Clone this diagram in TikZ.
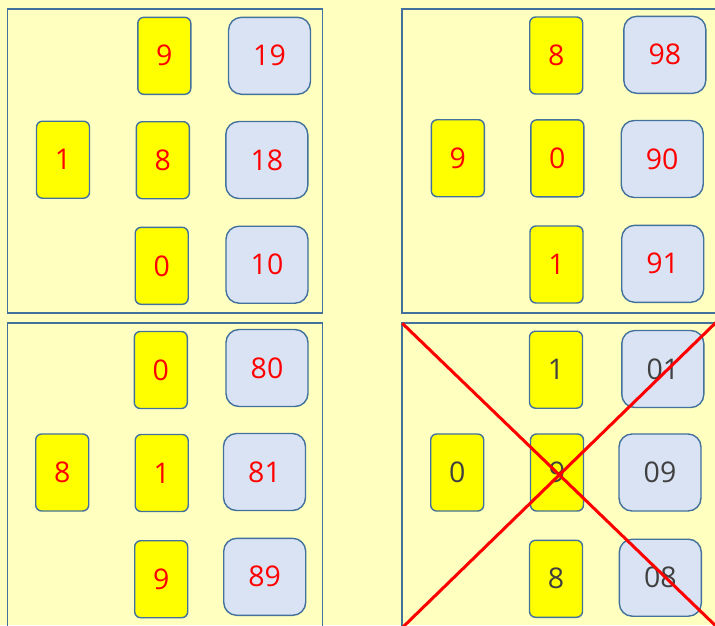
\documentclass[tikz,border=0pt]{standalone}
\usepackage{fontspec}
\setmainfont{Open Sans}
\definecolor{bgc}{HTML}{FFFFC0}
\definecolor{edgec}{HTML}{41719C}
\definecolor{boxc}{HTML}{DAE3F3}
\definecolor{cardc}{HTML}{FFFF00}
\definecolor{redtxt}{HTML}{FF0000}
\definecolor{greytxt}{HTML}{404040}
\tikzset{
  card/.style={draw=edgec, line width=1.4pt, fill=cardc, rounded corners=6pt,
    minimum width=53pt, minimum height=77pt, inner sep=0pt,
    font=\fontsize{28.5}{30}\selectfont, text=redtxt},
  numbox/.style={draw=edgec, line width=1.4pt, fill=boxc, rounded corners=13pt,
    minimum width=82pt, minimum height=77pt, inner sep=0pt,
    font=\fontsize{28.5}{30}\selectfont, text=redtxt},
  panel/.style={draw=edgec, line width=1.8pt},
  grey/.style={text=greytxt},
  cross/.style={draw=redtxt, line width=3pt}
}
\begin{document}
\begin{tikzpicture}[x=1pt,y=-1pt]
\useasboundingbox (0,0) rectangle (715,625);
\fill[bgc] (0,0) rectangle (715,625);
\begin{scope}
\clip (0,0) rectangle (715,625);
% panels
\draw[panel] (7.5,9) rectangle (322.5,313.3);
\draw[panel] (401.7,9.3) rectangle (718,313.3);
\draw[panel] (7.5,323.3) rectangle (322.5,630);
\draw[panel] (402.3,323.3) rectangle (718,630);
% panel 1
\node[card] (a1) at (164.3,55.8) {9};
\node[numbox] (a2) at (269.5,55.8) {19};
\node[card] (a3) at (63,159.7) {1};
\node[card] (a4) at (162.8,160.2) {8};
\node[numbox] (a5) at (266.8,160) {18};
\node[card] (a6) at (161.7,265.8) {0};
\node[numbox] (a7) at (267,264.7) {10};
% panel 2
\node[card] (b1) at (556.2,55.5) {8};
\node[numbox] (b2) at (664.8,54.8) {98};
\node[card] (b3) at (457.8,158.2) {9};
\node[card] (b4) at (557.3,158.3) {0};
\node[numbox] (b5) at (662.2,159) {90};
\node[card] (b6) at (556.5,264.5) {1};
\node[numbox] (b7) at (662.7,263.8) {91};
% panel 3
\node[card] (c1) at (160.8,370) {0};
\node[numbox] (c2) at (267,368) {80};
\node[card] (c3) at (62.2,472.5) {8};
\node[card] (c4) at (161.7,473) {1};
\node[numbox] (c5) at (264.5,472) {81};
\node[card] (c6) at (161.2,579.2) {9};
\node[numbox] (c7) at (264.7,576.8) {89};
% panel 4
\node[card,grey] (d1) at (556,369.7) {1};
\node[numbox,grey] (d2) at (662.8,369) {01};
\node[card,grey] (d3) at (457.2,472.5) {0};
\node[card,grey] (d4) at (557,472.5) {9};
\node[numbox,grey] (d5) at (660,472.5) {09};
\node[card,grey] (d6) at (556,578.8) {8};
\node[numbox,grey] (d7) at (660.3,577.7) {08};
% cross
\coordinate (x1) at (402.3,323.3);
\coordinate (x2) at (720,630);
\coordinate (x3) at (403,627);
\coordinate (x4) at (718,320.5);
\draw[cross] (x1) -- (x2);
\draw[cross] (x3) -- (x4);
\end{scope}
\end{tikzpicture}
\end{document}
